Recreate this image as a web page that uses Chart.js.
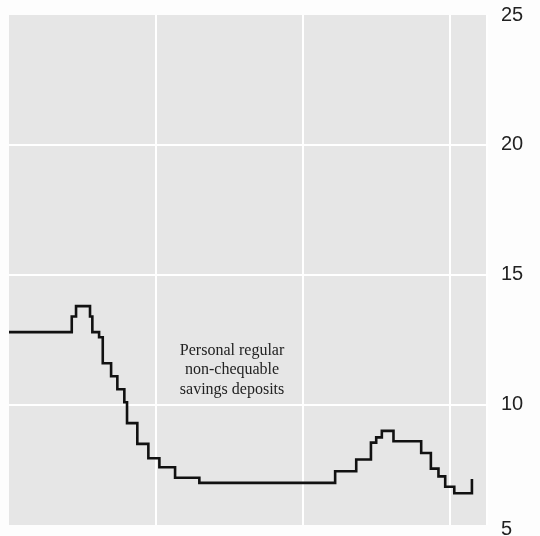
<!DOCTYPE html>
<html lang="en">
<head>
  <meta charset="UTF-8" />
  <title>Personal regular non-chequable savings deposits</title>
  <script src="https://cdn.jsdelivr.net/npm/chart.js"></script>
  <style>
    html, body { margin: 0; padding: 0; background: #fdfdfd; }
    .wrap { width: 540px; height: 536px; position: relative; }
  </style>
</head>
<body>
  <div class="wrap"><canvas id="rateChart"></canvas></div>

  <script>
    // step change points: months from start of chart, rate (%) from that point on
    const months = [0, 5.12, 5.47, 6.61, 6.80, 7.35, 7.65, 8.33, 8.84, 9.41, 9.63, 10.47, 11.37,
      12.27, 13.55, 15.53, 26.61, 28.33, 29.53, 29.96, 30.42, 31.37, 33.63, 34.42, 35.04,
      35.59, 36.33, 37.77];
    const rates = [12.8, 13.4, 13.8, 13.4, 12.8, 12.6, 11.6, 11.1, 10.6, 10.1, 9.3, 8.5, 7.95,
      7.6, 7.2, 7.0, 7.45, 7.9, 8.55, 8.75, 9.0, 8.6, 8.15, 7.55, 7.25,
      6.85, 6.6, 7.15];
    const yTicks = [5, 10, 15, 20, 25];
    const noteLines = ['Personal regular', 'non-chequable', 'savings deposits'];

    const points = months.map((m, i) => ({ x: m, y: rates[i] }));

    // grey panel behind the plot
    const panelBg = {
      id: 'panelBg',
      beforeDraw(chart) {
        const { ctx, chartArea: a } = chart;
        ctx.save();
        ctx.fillStyle = '#e6e6e6';
        ctx.fillRect(a.left, a.top, a.right - a.left, a.bottom - a.top);
        ctx.restore();
      }
    };

    // series caption inside the plot
    const note = {
      id: 'note',
      afterDatasetsDraw(chart) {
        const { ctx, scales } = chart;
        const cx = scales.x.getPixelForValue(18.2);
        const cy = scales.y.getPixelForValue(11.35);
        ctx.save();
        ctx.font = '16px "Liberation Serif", "DejaVu Serif", serif';
        ctx.fillStyle = '#222';
        ctx.textAlign = 'center';
        ctx.textBaseline = 'middle';
        noteLines.forEach((t, i) => ctx.fillText(t, cx, cy + (i - 1) * 19.5));
        ctx.restore();
      }
    };

    new Chart(document.getElementById('rateChart'), {
      type: 'line',
      data: {
        datasets: [{
          data: points,
          stepped: 'before',
          borderColor: '#111',
          borderWidth: 2.6,
          pointRadius: 0,
          fill: false
        }]
      },
      options: {
        responsive: true,
        maintainAspectRatio: false,
        animation: false,
        layout: { padding: { left: 9, top: 15, bottom: 11, right: 0 } },
        plugins: { legend: { display: false }, tooltip: { enabled: false } },
        scales: {
          x: {
            type: 'linear',
            min: 0,
            max: 39,
            ticks: { display: false, stepSize: 12 },
            border: { display: false },
            grid: {
              drawTicks: false,
              lineWidth: 2,
              color: ctx => (ctx.tick && ctx.tick.value > 0 ? '#ffffff' : 'rgba(0,0,0,0)')
            },
            afterFit(scale) { scale.height = 0; scale.paddingLeft = 0; scale.paddingRight = 0; }
          },
          y: {
            position: 'right',
            min: 5.38,
            max: 25,
            // bottom "5" sits just under the panel, kept inside the canvas like the original
            afterBuildTicks(scale) {
              scale.ticks = yTicks.map(v => ({ value: v < scale.min ? scale.min - 0.19 : v }));
            },
            ticks: {
              autoSkip: false,
              padding: 14,
              color: '#222',
              font: { family: '"Liberation Sans", Arial, sans-serif', size: 20 },
              callback: v => String(Math.round(v))
            },
            border: { display: false },
            grid: {
              drawTicks: false,
              lineWidth: 2,
              color: ctx => (ctx.tick && ctx.tick.value > 6 && ctx.tick.value < 25 ? '#ffffff' : 'rgba(0,0,0,0)')
            },
            afterFit(scale) { scale.width = 53; scale.paddingTop = 0; scale.paddingBottom = 0; }
          }
        }
      },
      plugins: [panelBg, note]
    });
  </script>
</body>
</html>
